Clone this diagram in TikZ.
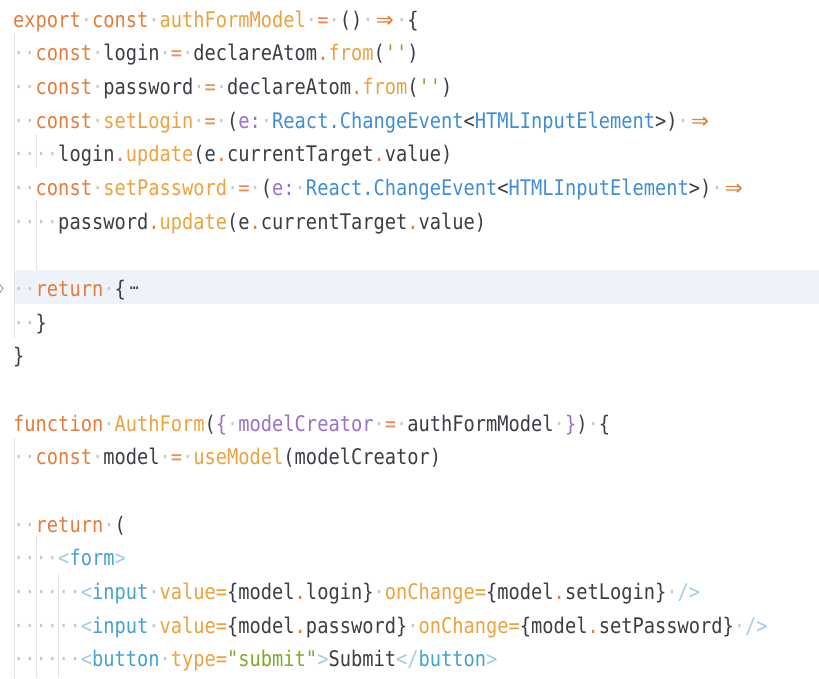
\documentclass[tikz,border=0pt]{standalone}
\usepackage{fontspec}
\usepackage{graphicx}
\newfontfamily\code[FakeStretch=0.87,Ligatures=TeXOff]{DejaVu Sans Mono}
\newfontfamily\arrfont{DejaVu Sans}
\definecolor{kw}{HTML}{E27D3B}
\definecolor{fn}{HTML}{E9A33F}
\definecolor{op}{HTML}{EE8B55}
\definecolor{tx}{HTML}{3B3F45}
\definecolor{pu}{HTML}{9D6FC8}
\definecolor{ty}{HTML}{3F8ED6}
\definecolor{tg}{HTML}{45A2CC}
\definecolor{tb}{HTML}{A3CDE3}
\definecolor{st}{HTML}{7DAA2B}
\definecolor{dt}{HTML}{C9C9C9}
\definecolor{gd}{HTML}{E4E4E4}
\definecolor{hl}{HTML}{EEF3FA}
\newlength\cw
\setlength\cw{11.26pt}
\newcommand\cK[1]{\textcolor{kw}{#1}}
\newcommand\cF[1]{\textcolor{fn}{#1}}
\newcommand\cOp[1]{\textcolor{op}{#1}}
\newcommand\cPu[1]{\textcolor{pu}{#1}}
\newcommand\cTy[1]{\textcolor{ty}{#1}}
\newcommand\cTg[1]{\textcolor{tg}{#1}}
\newcommand\cTb[1]{\textcolor{tb}{#1}}
\newcommand\cSt[1]{\textcolor{st}{#1}}
\newcommand\sd{\textcolor{dt}{·}}
\newcommand\sds{\sd\sd\sd\sd\sd\sd}
\newcommand\cArr{\makebox[2\cw][c]{\textcolor{kw}{\arrfont ⇒}}}
\newcommand\cEll{\makebox[\cw][l]{\hspace{4pt}\raisebox{7pt}{\fontsize{17pt}{17pt}\selectfont …}}}
\tikzset{
  codeline/.style={anchor=base west, inner sep=0pt, text=tx,
    font=\fontsize{21.5pt}{33.7pt}\code},
  guide/.style={draw=gd, line width=1pt}
}
\begin{document}
\settowidth\cw{\fontsize{21.5pt}{33.7pt}\code x}
\begin{tikzpicture}[x=1pt,y=-1pt]
\useasboundingbox (0,0) rectangle (819,678);
\fill[white] (0,0) rectangle (819,678);
% highlighted folded line
\fill[hl] (13.5,270) rectangle (819,304);
% fold marker
\draw[color=black!40, line width=0.9pt] (0,284.5) -- (3,288.5) -- (0,292.5);
% indent guides
\coordinate (ga1) at (14,34);   \coordinate (gb1) at (14,338);
\coordinate (ga2) at (36.7,134); \coordinate (gb2) at (36.7,168);
\coordinate (ga3) at (36.7,200); \coordinate (gb3) at (36.7,270);
\coordinate (ga4) at (14,438);  \coordinate (gb4) at (14,678);
\coordinate (ga5) at (36.7,535); \coordinate (gb5) at (36.7,678);
\coordinate (ga6) at (58.5,574); \coordinate (gb6) at (58.5,678);
\foreach \i in {1,...,6} { \draw[guide] (ga\i) -- (gb\i); }
% code lines
\node[codeline] (l0) at (13,27.0) {\cK{export}\sd\cK{const}\sd\cF{authFormModel}\sd\cOp{=}\sd()\sd\cArr\sd\{};
\node[codeline] (l1) at (13,60.7) {\sd\sd\cK{const}\sd login\sd\cOp{=}\sd declareAtom\cK{.}\cF{from}(\cSt{''})};
\node[codeline] (l2) at (13,94.4) {\sd\sd\cK{const}\sd password\sd\cOp{=}\sd declareAtom\cK{.}\cF{from}(\cSt{''})};
\node[codeline] (l3) at (13,128.0) {\sd\sd\cK{const}\sd\cF{setLogin}\sd\cOp{=}\sd(\cPu{e:}\sd\cTy{React.ChangeEvent}<\cTy{HTMLInputElement}>)\sd\cArr};
\node[codeline] (l4) at (13,161.7) {\sd\sd\sd\sd login\cK{.}\cF{update}(e\cK{.}currentTarget\cK{.}value)};
\node[codeline] (l5) at (13,195.4) {\sd\sd\cK{const}\sd\cF{setPassword}\sd\cOp{=}\sd(\cPu{e:}\sd\cTy{React.ChangeEvent}<\cTy{HTMLInputElement}>)\sd\cArr};
\node[codeline] (l6) at (13,229.1) {\sd\sd\sd\sd password\cK{.}\cF{update}(e\cK{.}currentTarget\cK{.}value)};
\node[codeline] (l8) at (13,296.4) {\sd\sd\cK{return}\sd\{\cEll};
\node[codeline] (l9) at (13,330.1) {\sd\sd\}};
\node[codeline] (l10) at (13,363.8) {\}};
\node[codeline] (l12) at (13,431.2) {\cK{function}\sd\cF{AuthForm}(\cPu{\{}\sd\cPu{modelCreator}\sd\cOp{=}\sd authFormModel\sd\cPu{\}})\sd\{};
\node[codeline] (l13) at (13,464.8) {\sd\sd\cK{const}\sd model\sd\cOp{=}\sd\cF{useModel}(modelCreator)};
\node[codeline] (l15) at (13,532.2) {\sd\sd\cK{return}\sd(};
\node[codeline] (l16) at (13,565.9) {\sd\sd\sd\sd\cTb{<}\cTg{form}\cTb{>}};
\node[codeline] (l17) at (13,599.6) {\sds\cTb{<}\cTg{input}\sd\cF{value=}\{model\cK{.}login\}\sd\cF{onChange=}\{model\cK{.}setLogin\}\sd\cTb{/>}};
\node[codeline] (l18) at (13,633.2) {\sds\cTb{<}\cTg{input}\sd\cF{value=}\{model\cK{.}password\}\sd\cF{onChange=}\{model\cK{.}setPassword\}\sd\cTb{/>}};
\node[codeline] (l19) at (13,666.9) {\sds\cTb{<}\cTg{button}\sd\cF{type=}\cSt{"submit"}\cTb{>}Submit\cTb{</}\cTg{button}\cTb{>}};
\end{tikzpicture}
\end{document}
